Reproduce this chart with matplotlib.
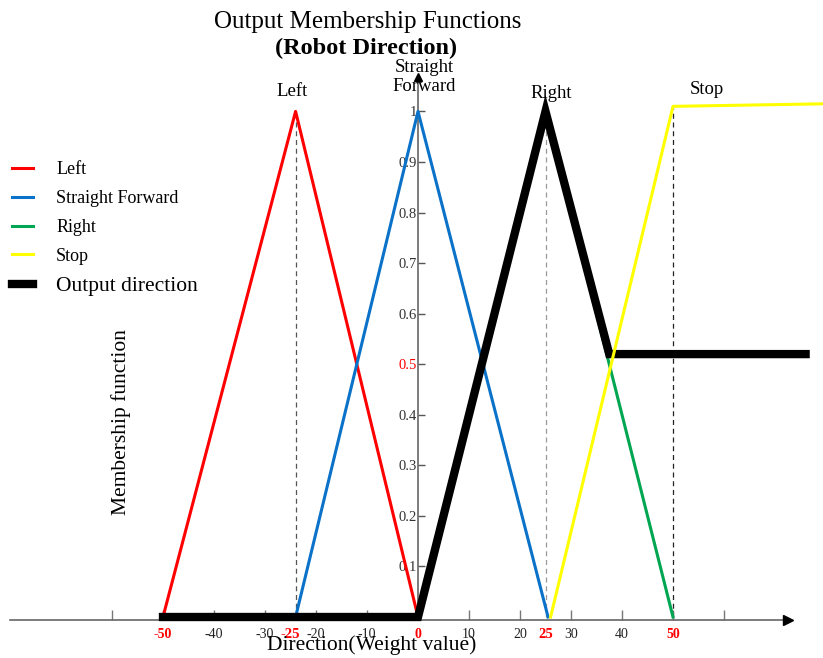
import matplotlib
matplotlib.use('Agg')
import matplotlib.pyplot as plt

plt.rcParams['font.family'] = ['Liberation Serif', 'DejaVu Serif']

W, H = 823, 658

# ---- data ----
left_x = [-50, -24, 0]
left_y = [0, 1, 0]
sf_x = [-24, 0, 25.5]
sf_y = [0, 1, 0]
right_x = [0, 25, 50]
right_y = [0, 1, 0]
stop_x = [26, 50, 79.5]
stop_y = [0, 1.01, 1.015]
out_x = [-50, 0, 25, 37.5, 76]
out_y = [0, 0, 1, 0.52, 0.52]
series_names = ['Left', 'Straight Forward', 'Right', 'Stop', 'Output direction']

xticks = [-60, -50, -40, -30, -20, -10, 0, 10, 20, 30, 40, 50, 60]
xtick_labels = ['', '-50', '-40', '-30', '-20', '-10', '0', '10', '20', '30', '40', '50', '']
red_xticks = [-50, 0, 50]
extra_xticks = [-25, 25]
extra_xtick_labels = ['-25', '25']
yticks = [0.1, 0.2, 0.3, 0.4, 0.5, 0.6, 0.7, 0.8, 0.9, 1.0]
ytick_labels = ['0.1', '0.2', '0.3', '0.4', '0.5', '0.6', '0.7', '0.8', '0.9', '1']
red_ytick = 0.5
guide_x = [-24, 25, 50]
guide_top = [1, 1, 1.01]

# ---- layout mapping (pixel -> data) ----
X0, SX = 418, 5.1
Y0, SY = 617, 505.6

fig = plt.figure(figsize=(W / 100, H / 100), dpi=100)
ax = fig.add_axes([0, 0, 1, 1])
ax.set_xlim((0 - X0) / SX, (W - X0) / SX)
ax.set_ylim((Y0 - H) / SY, Y0 / SY)

red, blue, green, yellow = '#FF0000', '#0A72C8', '#00A651', '#FFFF00'

# guides
ax.vlines(guide_x, 0, guide_top, colors=['#555555', '#999999', '#222222'],
          linestyles=(0, (4, 3)), lw=0.9, zorder=1)

l1, = ax.plot(left_x, left_y, color=red, lw=2.2, zorder=3)
l2, = ax.plot(sf_x, sf_y, color=blue, lw=2.2, zorder=3)
l3, = ax.plot(right_x, right_y, color=green, lw=2.2, zorder=3)
l5, = ax.plot(out_x, out_y, color='black', lw=6, zorder=4, solid_joinstyle='miter')
l4, = ax.plot(stop_x, stop_y, color=yellow, lw=2.2, zorder=5)

# axes spines
for s in ['top', 'right']:
    ax.spines[s].set_visible(False)
ax.spines['left'].set_position(('data', 0))
ax.spines['bottom'].set_position(('data', -0.006))
ax.spines['left'].set_bounds(-0.006, 1.06)
ax.spines['bottom'].set_bounds(-80, 72)
for s in ['left', 'bottom']:
    ax.spines[s].set_color('#666666')
    ax.spines[s].set_linewidth(1.2)
ax.plot([72.5], [-0.006], marker='>', ms=7, color='black', clip_on=False, zorder=6)
ax.plot([0], [1.068], marker='^', ms=6, color='black', clip_on=False, zorder=6)

# x ticks
ax.set_xticks(xticks, xtick_labels)
ax.tick_params(axis='x', which='major', direction='in', length=7, width=1,
               color='#777777', labelcolor='#222222', labelsize=10, pad=6)
for lbl, t in zip(ax.get_xticklabels(), xticks):
    if t in red_xticks:
        lbl.set_color('red')
        lbl.set_fontweight('bold')
ax.set_xticks(extra_xticks, extra_xtick_labels, minor=True)
ax.tick_params(axis='x', which='minor', direction='in', length=0,
               labelcolor='red', labelsize=10.5, pad=6)
for lbl in ax.get_xticklabels(minor=True):
    lbl.set_fontweight('bold')

# y ticks
ax.set_yticks(yticks, ytick_labels)
ax.tick_params(axis='y', direction='in', length=5, width=1, color='#555555',
               labelcolor='#333333', labelsize=10.5, pad=1)
for lbl, t in zip(ax.get_yticklabels(), yticks):
    if abs(t - red_ytick) < 1e-9:
        lbl.set_color('red')

# titles
ax.set_title('Output Membership Functions', x=368 / W, y=1 - 22 / H, pad=0,
             va='center', ha='center', fontsize=18)
fig.text(366 / W, 1 - 48 / H, '(Robot Direction)', ha='center', va='center',
         fontsize=17.5, fontweight='bold')

# category labels
fig.text(292 / W, 1 - 92 / H, 'Left', ha='center', va='center', fontsize=13.5)
fig.text(424 / W, 1 - 77 / H, 'Straight\nForward', ha='center', va='center',
         fontsize=13.5, linespacing=1.15)
fig.text(551 / W, 1 - 93 / H, 'Right', ha='center', va='center', fontsize=13.5)
fig.text(707 / W, 1 - 90 / H, 'Stop', ha='center', va='center', fontsize=13.5)

# axis labels
ax.set_xlabel('Direction(Weight value)', fontsize=15.5, va='center', ha='center')
ax.xaxis.set_label_coords(372 / W, 1 - 645 / H)
ax.set_ylabel('Membership function', fontsize=15.5, va='center', ha='center')
ax.yaxis.set_label_coords(121 / W, 1 - 422 / H)

# legend
leg = ax.legend([l1, l2, l3, l4, l5], series_names, loc='upper left',
                bbox_to_anchor=(12 / W, 1 - 161 / H), bbox_transform=fig.transFigure,
                frameon=False, fontsize=13, handlelength=1.15, handletextpad=1.3,
                labelspacing=0.66, borderpad=0, borderaxespad=0)
leg.get_texts()[4].set_fontsize(15.5)

fig.savefig('out.png', dpi=100)
